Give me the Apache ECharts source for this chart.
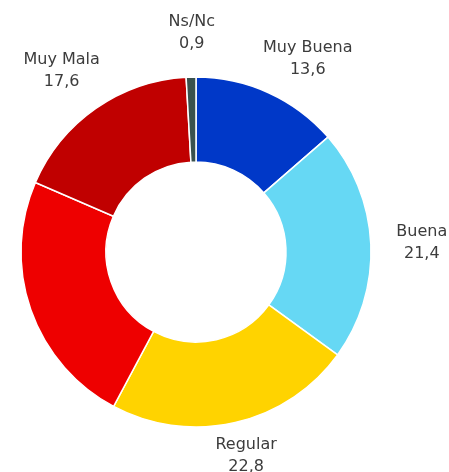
<!DOCTYPE html>
<html>
<head>
    <meta charset="UTF-8"/>
    <script type="text/javascript" src="https://cdn.jsdelivr.net/npm/echarts@6/dist/echarts.min.js"></script>
    <title>Valoración</title>
    <style>
        html, body {margin: 0; padding: 0; background: #fff;}
        #main {width: 449px; height: 472px;}
    </style>
</head>
<body>
<div id="main"></div>
<script type="text/javascript">
    // datos (orden horario desde arriba)
    var categorias = ['Muy Buena', 'Buena', 'Regular', 'Mala', 'Muy Mala', 'Ns/Nc']
    var valores = [13.6, 21.4, 22.8, 23.7, 17.6, 0.9]

    // estilo
    var colores = ['#0038c8', '#66d8f4', '#ffd300', '#ee0000', '#c00000', '#3a524e']
    var etiquetaVisible = [true, true, true, false, true, true]
    // pequeños ajustes de las etiquetas (como en el original de Excel)
    var etiquetaDx = [21, 7, 1, 0, -9, 2]
    var etiquetaDy = [6, 0, -10, 0, -2, 0]

    var myChart = echarts.init(document.getElementById('main'))

    var datos = []
    for (var i in categorias) {
        datos.push({
            name: categorias[i],
            value: valores[i],
            itemStyle: {color: colores[i]},
            label: {show: etiquetaVisible[i]}
        })
    }

    var option = {
        animation: false,
        series: [
            {
                type: 'pie',
                center: [196, 252],
                radius: [90, 175],
                startAngle: 90,
                clockwise: true,
                avoidLabelOverlap: false,
                itemStyle: {borderColor: '#fff', borderWidth: 1.5},
                label: {
                    position: 'outside',
                    distanceToLabelLine: 0,
                    color: '#3c3c3c',
                    fontFamily: 'DejaVu Sans',
                    fontSize: 16,
                    lineHeight: 22,
                    formatter: function (p) {
                        return p.name + '\n' + p.value.toFixed(1).replace('.', ',')
                    }
                },
                labelLine: {show: false, length: 44, length2: 0},
                labelLayout: function (p) {
                    return {
                        align: 'center',
                        verticalAlign: 'middle',
                        dx: etiquetaDx[p.dataIndex],
                        dy: etiquetaDy[p.dataIndex]
                    }
                },
                data: datos
            }
        ]
    }
    myChart.setOption(option)
</script>
</body>
</html>
